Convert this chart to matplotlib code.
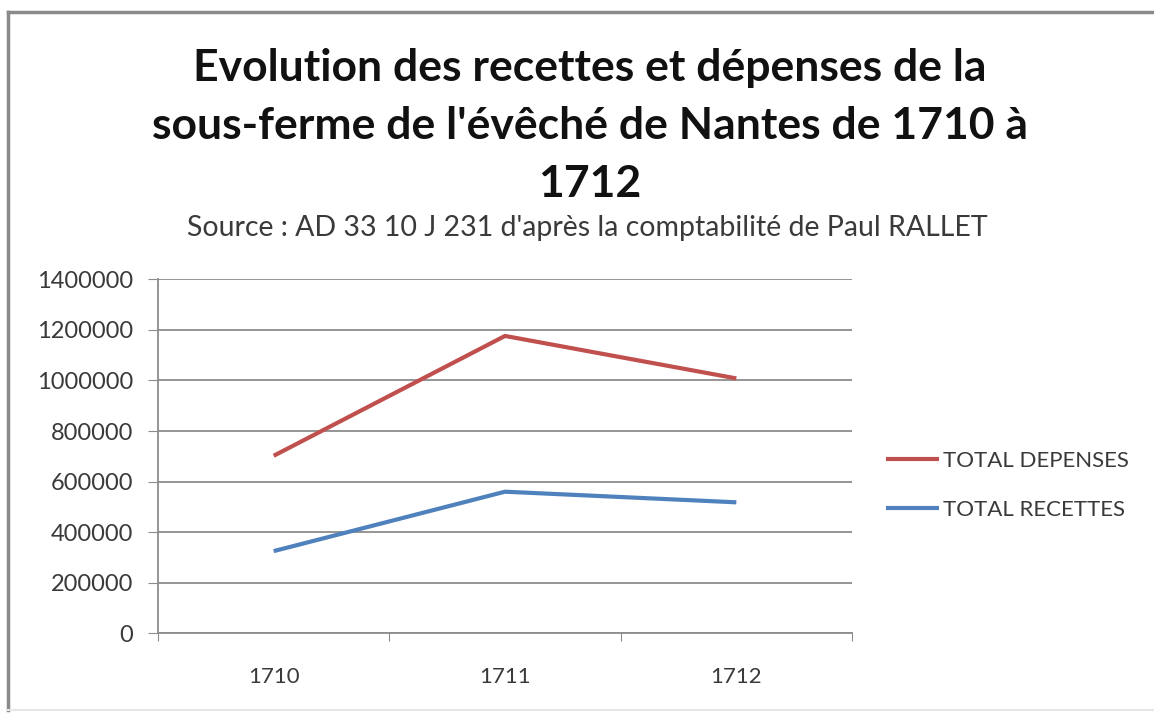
import matplotlib
matplotlib.use("Agg")
import matplotlib.pyplot as plt
from matplotlib.lines import Line2D

plt.rcParams['font.family'] = ['Lato', 'DejaVu Sans']

years = ['1710', '1711', '1712']
depenses = [702000, 1176000, 1008000]
recettes = [325000, 560000, 518000]
yticks = [0, 200000, 400000, 600000, 800000, 1000000, 1200000, 1400000]

W, H = 1154, 713
fig = plt.figure(figsize=(W / 100, H / 100), dpi=100)

# outer chart frame: left, top and a faint bottom (right side runs off the image)
fig.lines.append(Line2D([8 / W, 8 / W], [3 / H, 1 - 12 / H], transform=fig.transFigure,
                        color='#8a8a8a', linewidth=2.5))
fig.lines.append(Line2D([8 / W, 1], [1 - 12 / H, 1 - 12 / H], transform=fig.transFigure,
                        color='#8a8a8a', linewidth=2.5))
fig.lines.append(Line2D([8 / W, 1], [3 / H, 3 / H], transform=fig.transFigure,
                        color='#e6e6e6', linewidth=1.5))

ax = fig.add_axes([158 / W, (H - 633.3) / H, 694 / W, 354 / H])
x = list(range(len(years)))
ax.plot(x, depenses, color='#C0504D', linewidth=3, label='TOTAL DEPENSES',
        solid_capstyle='butt')
ax.plot(x, recettes, color='#4F81BD', linewidth=3, label='TOTAL RECETTES',
        solid_capstyle='butt')

ax.set_xlim(-0.5, 2.5)
ax.set_ylim(0, 1400000)
ax.set_yticks(yticks)
ax.set_yticklabels([str(v) for v in yticks], fontsize=17, color='#3a3a3a')
ax.yaxis.grid(True, color='#8c8c8c', linewidth=1.3)
ax.set_axisbelow(True)

# category boundaries as major ticks, labels on minor ticks
ax.set_xticks([-0.5, 0.5, 1.5, 2.5])
ax.set_xticklabels([])
ax.set_xticks(x, minor=True)
ax.set_xticklabels(years, minor=True, fontsize=16, color='#3a3a3a')
ax.tick_params(axis='x', which='major', length=6, color='#8c8c8c')
ax.tick_params(axis='x', which='minor', length=0, pad=24)
ax.tick_params(axis='y', length=7, color='#8c8c8c', pad=11)

for s in ['top', 'right']:
    ax.spines[s].set_visible(False)
ax.spines['left'].set_color('#8c8c8c')
ax.spines['bottom'].set_color('#8c8c8c')
ax.spines['left'].set_linewidth(1.3)
ax.spines['bottom'].set_linewidth(1.3)

handles, labels = ax.get_legend_handles_labels()
fig.legend(handles, labels, loc='center left', bbox_to_anchor=(866 / W, (H - 485.5) / H),
           frameon=False, fontsize=16, handlelength=2.4, handletextpad=0.15,
           labelspacing=1.3, labelcolor='#3a3a3a')

fig.text(0.511, (H - 126) / H,
         "Evolution des recettes et dépenses de la\nsous-ferme de l'évêché de Nantes de 1710 à\n1712",
         ha='center', va='center', fontsize=32, fontweight='bold', linespacing=1.56,
         color='#111111')
fig.text(0.509, (H - 228) / H,
         "Source : AD 33 10 J 231 d'après la comptabilité de Paul RALLET",
         ha='center', va='center', fontsize=20.5, color='#3a3a3a')

fig.savefig('out.png', dpi=100)
